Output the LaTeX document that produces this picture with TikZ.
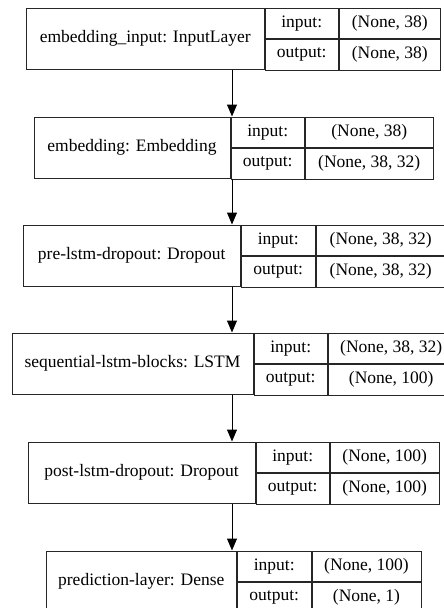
\documentclass[tikz,border=0pt]{standalone}
\usepackage{fontspec}
\setmainfont{Liberation Serif}
\usetikzlibrary{arrows.meta}

\begin{document}
\begin{tikzpicture}[x=1pt, y=-1pt,
  cell/.style={draw=black!85, line width=1pt, inner sep=0pt, anchor=north west,
    minimum height=30.5pt, font=\fontsize{17.5}{20}\selectfont},
  lname/.style={cell, minimum height=61pt},
  kind/.style={cell, minimum width=73.5pt},
  flow/.style={-{Triangle[length=12pt, width=10pt]}, line width=1pt}]
\path[use as bounding box, clip] (0,0) rectangle (444,608);
\coordinate (axis) at (232,0);

\node[lname, minimum width=237.5pt] (n1) at (26,7.5) {embedding\_input: InputLayer};
\node[kind] (i1) at (n1.north east) {input:};
\node[kind] (o1) at (i1.south west) {output:};
\node[cell, minimum width=100.5pt] (s1) at (i1.north east) {(None, 38)};
\node[cell, minimum width=100.5pt] (t1) at (o1.north east) {(None, 38)};

\node[lname, minimum width=196pt] (n2) at (33.5,116.5) {embedding: Embedding};
\node[kind] (i2) at (n2.north east) {input:};
\node[kind] (o2) at (i2.south west) {output:};
\node[cell, minimum width=127.5pt] (s2) at (i2.north east) {(None, 38)};
\node[cell, minimum width=127.5pt] (t2) at (o2.north east) {(None, 38, 32)};

\node[lname, minimum width=217.5pt] (n3) at (22.5,224.5) {pre-lstm-dropout: Dropout};
\node[kind] (i3) at (n3.north east) {input:};
\node[kind] (o3) at (i3.south west) {output:};
\node[cell, minimum width=129.5pt] (s3) at (i3.north east) {(None, 38, 32)};
\node[cell, minimum width=129.5pt] (t3) at (o3.north east) {(None, 38, 32)};

\node[lname, minimum width=241pt] (n4) at (11.5,332.5) {sequential-lstm-blocks: LSTM};
\node[kind] (i4) at (n4.north east) {input:};
\node[kind] (o4) at (i4.south west) {output:};
\node[cell, minimum width=125.5pt] (s4) at (i4.north east) {(None, 38, 32)};
\node[cell, minimum width=125.5pt] (t4) at (o4.north east) {(None, 100)};

\node[lname, minimum width=227pt] (n5) at (27.5,441.5) {post-lstm-dropout: Dropout};
\node[kind] (i5) at (n5.north east) {input:};
\node[kind] (o5) at (i5.south west) {output:};
\node[cell, minimum width=108.5pt] (s5) at (i5.north east) {(None, 100)};
\node[cell, minimum width=108.5pt] (t5) at (o5.north east) {(None, 100)};

\node[lname, minimum width=190.5pt] (n6) at (45.5,550.5) {prediction-layer: Dense};
\node[kind] (i6) at (n6.north east) {input:};
\node[kind] (o6) at (i6.south west) {output:};
\node[cell, minimum width=109pt] (s6) at (i6.north east) {(None, 100)};
\node[cell, minimum width=109pt] (t6) at (o6.north east) {(None, 1)};

\draw[flow] (n1.south -| axis) -- (n2.north -| axis);
\draw[flow] (n2.south -| axis) -- (n3.north -| axis);
\draw[flow] (n3.south -| axis) -- (n4.north -| axis);
\draw[flow] (n4.south -| axis) -- (n5.north -| axis);
\draw[flow] (n5.south -| axis) -- (n6.north -| axis);
\end{tikzpicture}
\end{document}
